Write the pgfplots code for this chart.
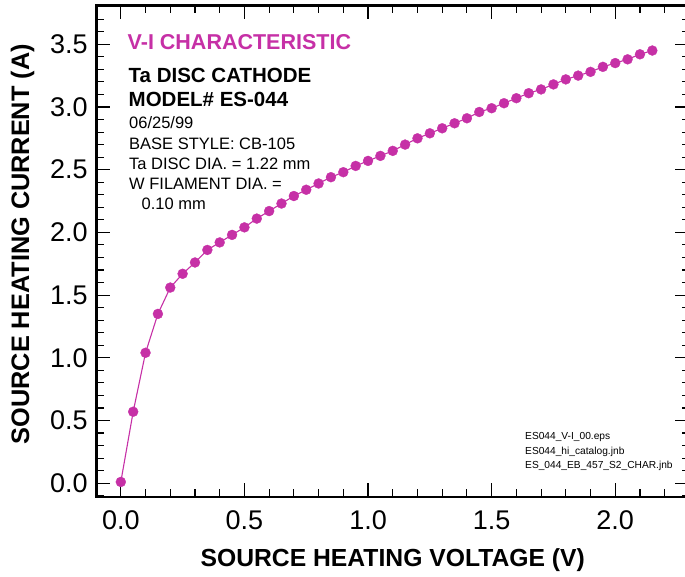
\documentclass[border=0pt]{standalone}
\usepackage{fontspec}
\setmainfont{Liberation Sans}
\usepackage{pgfplots}
\pgfplotsset{compat=1.18}
\definecolor{vimag}{RGB}{198,48,166}

\begin{document}
\begin{tikzpicture}[x=1pt,y=1pt]
\path[use as bounding box] (0,0) rectangle (685,577);
\begin{axis}[
  at={(96.1pt,80pt)}, anchor=south west,
  scale only axis,
  width=593.3pt, height=491.6pt,
  xmin=-0.1, xmax=2.3,
  ymin=-0.11, ymax=3.81,
  xtick distance=0.5, ytick distance=0.5,
  minor tick num=4,
  tick align=inside,
  major tick length=14pt,
  minor tick length=7.5pt,
  every tick/.style={black, line width=1.1pt},
  axis line style={line width=2.8pt},
  /pgf/number format/assume math mode=true,
  /pgf/number format/fixed,
  /pgf/number format/fixed zerofill,
  /pgf/number format/precision=1,
  tick label style={font=\fontsize{27}{27}\selectfont},
  xticklabel style={yshift=-10pt},
  yticklabel style={xshift=-5pt},
  xlabel={SOURCE HEATING VOLTAGE (V)},
  ylabel={SOURCE HEATING CURRENT (A)},
  xlabel style={font=\fontsize{24.7}{25}\selectfont\bfseries,
    at={([yshift=-69.5pt]axis description cs:0.5,0)}, anchor=base},
  ylabel style={font=\fontsize{25.3}{26}\selectfont\bfseries,
    at={([xshift=-67pt,yshift=7pt]axis description cs:0,0.5)}, anchor=base},
]
\addplot[color=vimag, line width=1.1pt, mark=*, mark size=5pt,
  mark options={fill=vimag, draw=vimag, line width=0.3pt}]
coordinates {
(0.00,0.01) (0.05,0.57) (0.10,1.04) (0.15,1.35) (0.20,1.56) (0.25,1.67)
(0.30,1.76) (0.35,1.86) (0.40,1.92) (0.45,1.98) (0.50,2.04) (0.55,2.11)
(0.60,2.17) (0.65,2.23) (0.70,2.29) (0.75,2.34) (0.80,2.39) (0.85,2.44)
(0.90,2.48) (0.95,2.53) (1.00,2.57) (1.05,2.61) (1.10,2.65) (1.15,2.70)
(1.20,2.75) (1.25,2.79) (1.30,2.83) (1.35,2.87) (1.40,2.91) (1.45,2.96)
(1.50,2.99) (1.55,3.03) (1.60,3.07) (1.65,3.11) (1.70,3.14) (1.75,3.18)
(1.80,3.22) (1.85,3.25) (1.90,3.28) (1.95,3.32) (2.00,3.35) (2.05,3.38)
(2.10,3.42) (2.15,3.45)
};
\end{axis}
% notes inside the plot area
\node[anchor=base west, inner sep=0, text=vimag, font=\fontsize{21.5}{22}\selectfont\bfseries] at (127.5,527) {V-I CHARACTERISTIC};
\node[anchor=base west, inner sep=0, font=\fontsize{20.5}{21}\selectfont\bfseries] at (128.5,494) {Ta DISC CATHODE};
\node[anchor=base west, inner sep=0, font=\fontsize{20.5}{21}\selectfont\bfseries] at (128.5,470.5) {MODEL\# ES-044};
\node[anchor=base west, inner sep=0, font=\fontsize{16.5}{17}\selectfont] at (129,448) {06/25/99};
\node[anchor=base west, inner sep=0, font=\fontsize{16.5}{17}\selectfont] at (129,427.7) {BASE STYLE: CB-105};
\node[anchor=base west, inner sep=0, font=\fontsize{16.5}{17}\selectfont] at (129,407.7) {Ta DISC DIA. = 1.22 mm};
\node[anchor=base west, inner sep=0, font=\fontsize{16.5}{17}\selectfont] at (129,387) {W FILAMENT DIA. =};
\node[anchor=base west, inner sep=0, font=\fontsize{16.5}{17}\selectfont] at (141.5,367) {0.10 mm};
\node[anchor=base west, inner sep=0, font=\fontsize{10.2}{11}\selectfont] at (525,137) {ES044\_V-I\_00.eps};
\node[anchor=base west, inner sep=0, font=\fontsize{10.2}{11}\selectfont] at (525,122) {ES044\_hi\_catalog.jnb};
\node[anchor=base west, inner sep=0, font=\fontsize{10.2}{11}\selectfont] at (525,108) {ES\_044\_EB\_457\_S2\_CHAR.jnb};
\end{tikzpicture}
\end{document}
